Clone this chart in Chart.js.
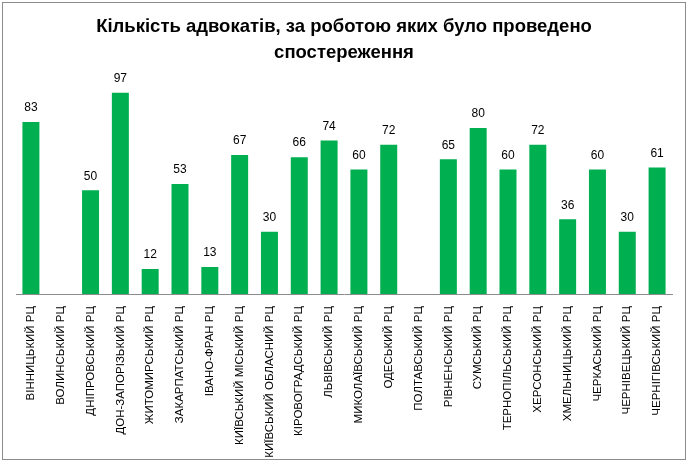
<!DOCTYPE html>
<html>
<head>
<meta charset="utf-8">
<script src="https://cdn.jsdelivr.net/npm/chart.js@4"></script>
<style>
  body { margin: 0; background: #fff; }
  #wrap { position: relative; width: 689px; height: 467px; }
  #frame { position: absolute; left: 2px; top: 2px; width: 682px; height: 456px; border: 1px solid #8c8c8c; pointer-events: none; }
</style>
</head>
<body>
<div id="wrap">
  <canvas id="myChart" width="689" height="467"></canvas>
  <div id="frame"></div>
</div>
<script>
const titleLines = ['Кількість адвокатів, за роботою яких було проведено', 'спостереження'];

const regions = [
    'ВІННИЦЬКИЙ РЦ', 'ВОЛИНСЬКИЙ РЦ', 'ДНІПРОВСЬКИЙ РЦ', 'ДОН-ЗАПОРІЗЬКИЙ РЦ',
    'ЖИТОМИРСЬКИЙ РЦ', 'ЗАКАРПАТСЬКИЙ РЦ', 'ІВАНО-ФРАН РЦ', 'КИЇВСЬКИЙ МІСЬКИЙ РЦ',
    'КИЇВСЬКИЙ ОБЛАСНИЙ РЦ', 'КІРОВОГРАДСЬКИЙ РЦ', 'ЛЬВІВСЬКИЙ РЦ', 'МИКОЛАЇВСЬКИЙ РЦ',
    'ОДЕСЬКИЙ РЦ', 'ПОЛТАВСЬКИЙ РЦ', 'РІВНЕНСЬКИЙ РЦ', 'СУМСЬКИЙ РЦ',
    'ТЕРНОПІЛЬСЬКИЙ РЦ', 'ХЕРСОНСЬКИЙ РЦ', 'ХМЕЛЬНИЦЬКИЙ РЦ', 'ЧЕРКАСЬКИЙ РЦ',
    'ЧЕРНІВЕЦЬКИЙ РЦ', 'ЧЕРНІГІВСЬКИЙ РЦ'
];

// null = no data for that centre
const lawyerCounts = [83, null, 50, 97, 12, 53, 13, 67, 30, 66, 74, 60, 72, null, 65, 80, 60, 72, 36, 60, 30, 61];

// simple value labels above bars
const valueLabels = {
    id: 'valueLabels',
    afterDatasetsDraw(chart) {
        const ctx = chart.ctx;
        const meta = chart.getDatasetMeta(0);
        ctx.save();
        ctx.font = '12px "Liberation Sans Narrow", "Liberation Sans", sans-serif';
        ctx.fillStyle = '#000';
        ctx.textAlign = 'center';
        ctx.textBaseline = 'bottom';
        meta.data.forEach((bar, i) => {
            const v = lawyerCounts[i];
            if (v === null) return;
            ctx.fillText(v, bar.x, bar.y - 8);
        });
        ctx.restore();
    }
};

const ctx = document.getElementById('myChart').getContext('2d');
const myChart = new Chart(ctx, {
    type: 'bar',
    data: {
        labels: regions,
        datasets: [{
            data: lawyerCounts,
            backgroundColor: '#00B050',
            borderWidth: 0,
            barPercentage: 0.57,
            categoryPercentage: 1.0
        }]
    },
    options: {
        responsive: false,
        animation: false,
        layout: { padding: { left: 16, right: 17, top: 0, bottom: 0 } },
        plugins: {
            legend: { display: false },
            tooltip: { enabled: false },
            title: {
                display: true,
                text: titleLines,
                color: '#000',
                font: { family: '"Liberation Sans Narrow", "Liberation Sans", sans-serif', size: 18.5, weight: 'bold', lineHeight: 1.45 },
                padding: { top: 13, bottom: 20 }
            }
        },
        scales: {
            y: {
                display: false,
                min: 0,
                max: 100
            },
            x: {
                grid: { display: false },
                border: { display: true, color: '#8c8c8c', width: 1 },
                ticks: {
                    autoSkip: false,
                    minRotation: 90,
                    maxRotation: 90,
                    padding: 4,
                    color: '#000',
                    font: { family: '"Liberation Sans", Arial, sans-serif', size: 11.5 }
                },
                afterFit(scale) { scale.height = 173; }
            }
        }
    },
    plugins: [valueLabels]
});
</script>
</body>
</html>
